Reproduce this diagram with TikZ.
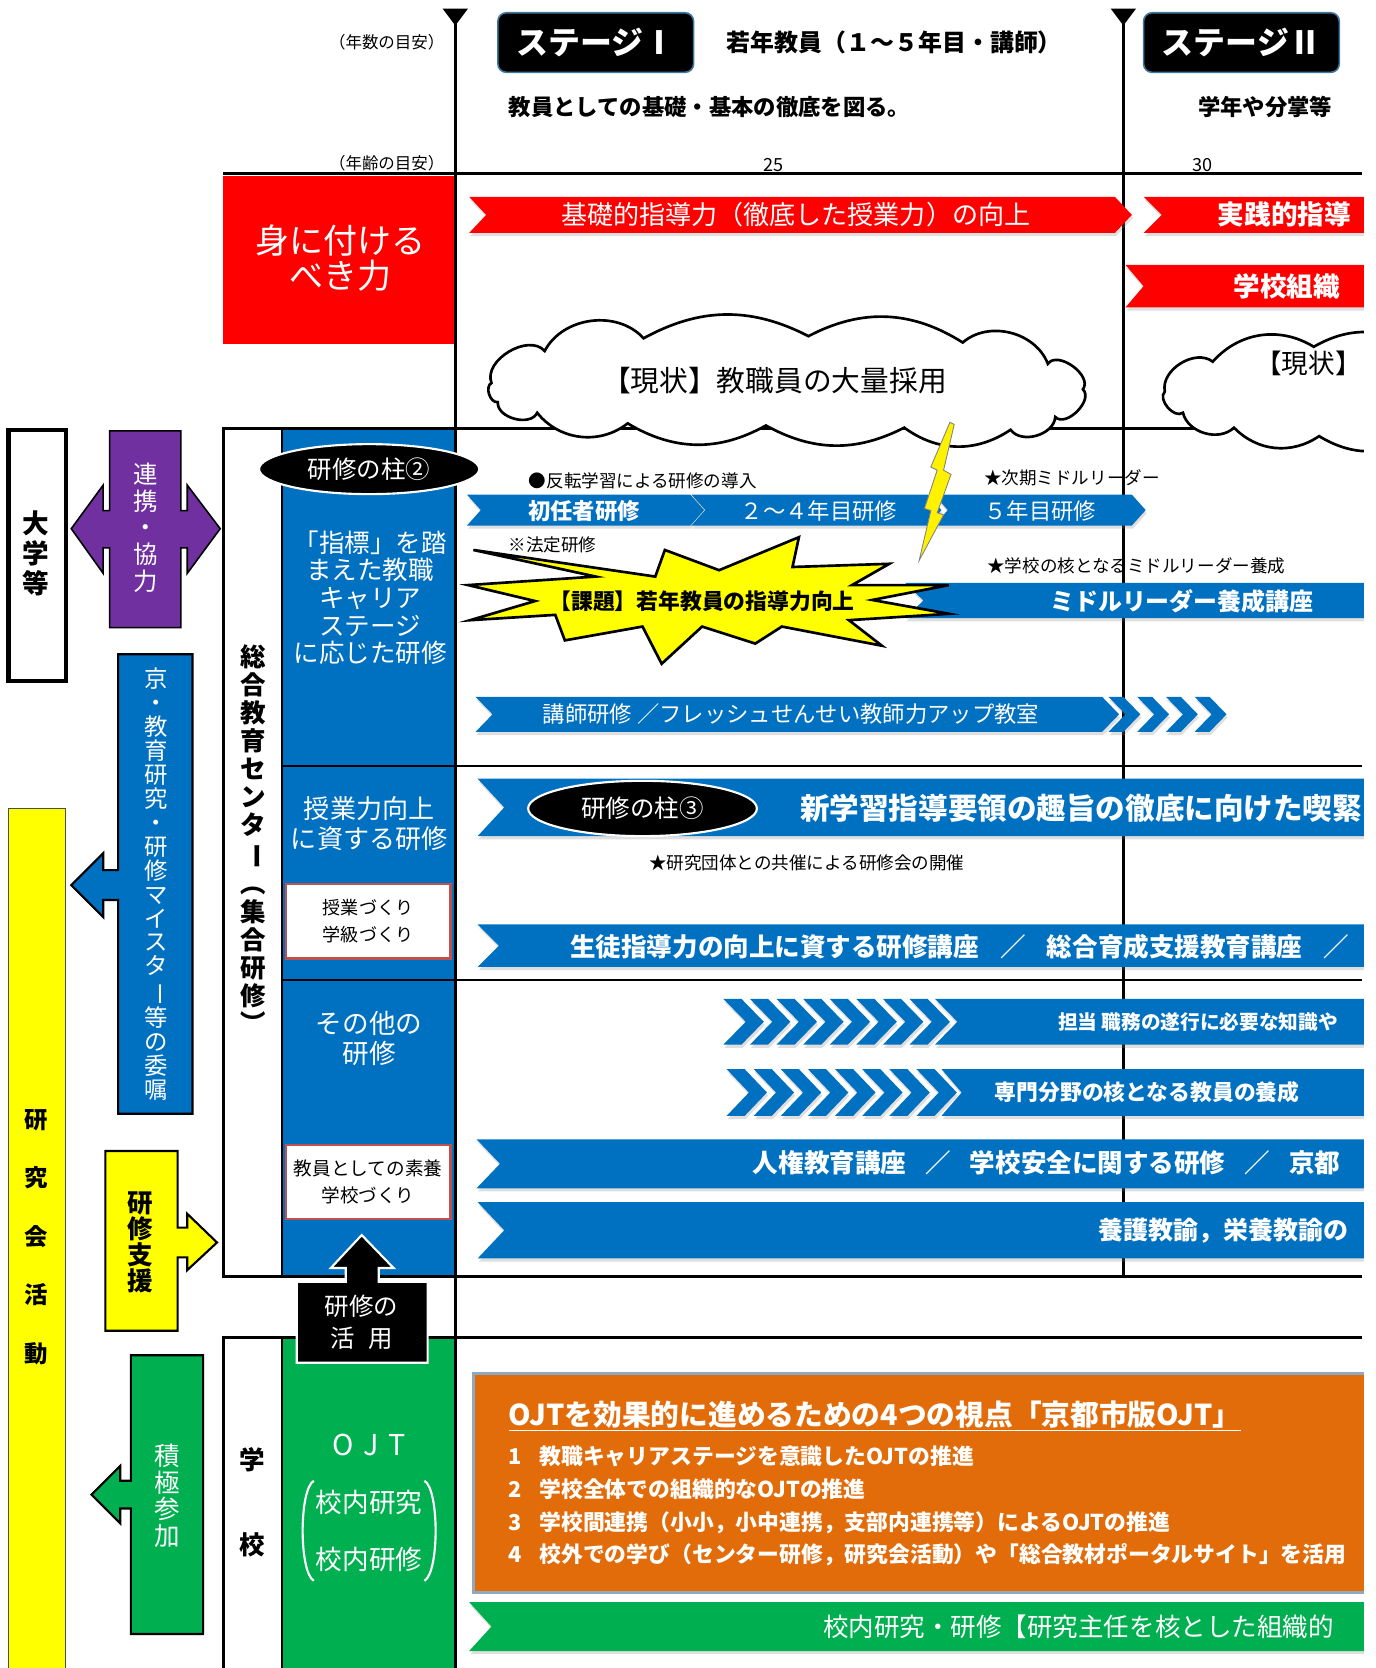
\documentclass[tikz,border=0pt]{standalone}
\usepackage{fontspec}
\setmainfont{Noto Sans CJK JP}
\usepackage{graphicx}
\usetikzlibrary{shapes.geometric,shadows}

\definecolor{kred}{RGB}{255,0,0}
\definecolor{kblue}{RGB}{0,112,192}
\definecolor{kpurple}{RGB}{112,48,160}
\definecolor{kgreen}{RGB}{0,176,80}
\definecolor{kyellow}{RGB}{255,255,0}
\definecolor{korange}{RGB}{227,108,10}
\definecolor{kframe}{RGB}{192,80,77}
\definecolor{kedge}{RGB}{142,169,193}

\newcommand{\tate}[1]{\rotatebox[origin=c]{-90}{#1}}
\newcommand{\fsz}[2]{\fontsize{#1}{#2}\selectfont}
% banner: colour, x1, y1, x2, y2, depth of notch and point
\newcommand{\banner}[6]{%
  \fill[#1,bshadow] (#2,#3) -- ({#4-#6},#3) -- (#4,{(#3+#5)/2}) -- ({#4-#6},#5)
    -- (#2,#5) -- ({#2+#6},{(#3+#5)/2}) -- cycle;}

\tikzset{
  bshadow/.style={drop shadow={opacity=.25,shadow xshift=1pt,shadow yshift=-3pt}},
  wtxt/.style={text=white,inner sep=0pt},
  btxt/.style={text=black,inner sep=0pt},
  note/.style={btxt,anchor=west,font=\fsz{16.5}{18}},
  stage/.style={fill=black,draw=kblue!50!gray,line width=1.5pt,rounded corners=8pt,text=white,
    font=\bfseries\fsz{30}{32},minimum width=184pt,minimum height=56pt},
  pillar/.style={ellipse,fill=black,draw=white,line width=2pt,text=white,font=\fsz{23}{25},inner sep=0pt},
  subbox/.style={fill=white,draw=kframe,line width=2pt,align=center,minimum width=155pt,
    minimum height=70pt,inner sep=0pt,text=black},
  kumo/.style={draw,fill=white,line width=2.5pt},
}

\begin{document}
\begin{tikzpicture}[x=1pt,y=-1pt]
\useasboundingbox (0,0) rectangle (1293,1568);
\begin{scope}
\clip (0,0) rectangle (1282,1568);

% coloured columns
\fill[kred] (210,165) rectangle (428,323);
\fill[kblue] (265,403) rectangle (428,1200);
\fill[kgreen] (265,1257) rectangle (428,1575);

% time axis and frames
\draw[line width=2.5] (428,18) -- (428,1575);
\draw[line width=2.5] (1056,18) -- (1056,1200);
\fill (416,8) -- (440,8) -- (428,24) -- cycle;
\fill (1044,8) -- (1068,8) -- (1056,24) -- cycle;
\draw[line width=2.5] (210,163) -- (1280,163);
\draw[line width=2.5] (1280,403) -- (210,403) -- (210,1200) -- (1280,1200);
\draw[line width=1.5] (265,403) -- (265,1200);
\draw[line width=2] (265,720) -- (1280,720);
\draw[line width=2] (265,921) -- (1280,921);
\draw[line width=2.5] (210,1575) -- (210,1257) -- (1280,1257);
\draw[line width=1.5] (265,1257) -- (265,1575);

% left side
\draw[line width=4,fill=white] (8,404) rectangle (62,640);
\filldraw[fill=kyellow,draw=black!70,line width=1] (8,760) rectangle (62,1580);
\filldraw[fill=kpurple,draw=black,line width=1.5] (103,405) -- (170,405) -- (170,480) -- (176,480)
  -- (176,456) -- (207,497) -- (176,539) -- (176,515) -- (170,515) -- (170,590) -- (103,590)
  -- (103,515) -- (97,515) -- (97,539) -- (67,497) -- (97,456) -- (97,480) -- (103,480) -- cycle;
\filldraw[fill=kblue,draw=black,line width=2] (111,615) -- (181,615) -- (181,1047) -- (111,1047)
  -- (111,846) -- (97,846) -- (97,862) -- (67,832) -- (97,802) -- (97,818) -- (111,818) -- cycle;
\filldraw[fill=kyellow,draw=black,line width=2] (99,1082) -- (167,1082) -- (167,1154) -- (176,1154)
  -- (176,1141) -- (204,1168) -- (176,1194) -- (176,1182) -- (167,1182) -- (167,1251) -- (99,1251) -- cycle;
\filldraw[fill=kgreen,draw=black,line width=2] (123,1274) -- (191,1274) -- (191,1536) -- (123,1536)
  -- (123,1418) -- (113,1418) -- (113,1432) -- (86,1405) -- (113,1378) -- (113,1392) -- (123,1392) -- cycle;
\filldraw[fill=black,draw=white,line width=2] (279,1205) -- (325,1205) -- (325,1192) -- (311,1192)
  -- (340,1161) -- (370,1192) -- (356,1192) -- (356,1205) -- (402,1205) -- (402,1281) -- (279,1281) -- cycle;

% clouds
\draw[kumo] (462,360) to[bend left=80] (512,330) to[bend left=55] (605,318) to[bend left=28] (760,316)
  to[bend left=30] (905,322) to[bend left=55] (985,342) to[bend left=90] (1018,366)
  to[bend left=90] (992,392) to[bend left=70] (950,404) to[bend left=35] (850,402)
  to[bend left=28] (720,400) to[bend left=30] (590,398) to[bend left=45] (505,388)
  to[bend left=80] (468,378) to[bend left=80] (462,360) -- cycle;
\draw[kumo] (1095,368) to[bend left=70] (1140,340) to[bend left=40] (1235,326) to[bend left=30] (1330,326)
  -- (1330,412) to[bend left=30] (1240,410) to[bend left=40] (1160,402) to[bend left=60] (1112,388)
  to[bend left=85] (1095,368) -- cycle;

% red banners
\banner{kred}{441}{185}{1064}{219}{16}
\banner{kred}{1075}{185}{1320}{219}{17}
\banner{kred}{1058}{249}{1320}{289}{17}

% blue banners
\banner{kblue}{439}{465}{662}{494}{13}
\banner{kblue}{650}{465}{885}{494}{13}
\banner{kblue}{878}{465}{1077}{494}{13}
\banner{kblue}{851}{548}{1320}{581}{17}
\banner{kblue}{447}{655}{1052}{688}{16}
\foreach \cx in {1042,1069,1096,1123}
  \fill[kblue,bshadow] (\cx,655) -- ++(14,0) -- ++(16,16.5) -- ++(-16,16.5) -- ++(-14,0) -- ++(16,-16.5) -- cycle;
\banner{kblue}{449}{732}{1320}{786}{25}
\banner{kblue}{449}{869}{1320}{909}{20}
\banner{kblue}{879}{939}{1320}{982}{21}
\foreach \cx in {680,705,730,755,780,805,830,855}
  \fill[kblue,bshadow] (\cx,939) -- ++(17,0) -- ++(21,21.5) -- ++(-21,21.5) -- ++(-17,0) -- ++(21,-21.5) -- cycle;
\banner{kblue}{885}{1005}{1320}{1049}{19}
\foreach \cx in {683,708.5,734,759.5,785,810.5,836,861.5}
  \fill[kblue,bshadow] (\cx,1005) -- ++(17,0) -- ++(21,22) -- ++(-21,22) -- ++(-17,0) -- ++(21,-22) -- cycle;
\banner{kblue}{448}{1071}{1320}{1117}{22}
\banner{kblue}{449}{1130}{1320}{1183}{25}

% school part
\filldraw[fill=korange,draw=kedge,line width=3] (445,1291) rectangle (1320,1497);
\banner{kgreen}{441}{1506}{1320}{1552}{21}

% issue star and bolt
\filldraw[fill=kyellow,draw=black,line width=2.5,line join=miter] (445,517) -- (616,542) -- (625,517)
  -- (676,536) -- (751,505) -- (745,533) -- (836,530) -- (801,550) -- (892,550) -- (820,564)
  -- (892,577) -- (798,583) -- (829,607) -- (735,589) -- (710,605) -- (660,589) -- (622,624)
  -- (604,589) -- (531,602) -- (522,578) -- (442,583) -- (503,565) -- (440,550) -- (560,542) -- cycle;
\filldraw[fill=kyellow!90!orange,draw=gray,line width=0.8] (893,397) -- (897,399) -- (887,442)
  -- (894,446) -- (881,482) -- (887,484) -- (864,527) -- (875,480) -- (869,478) -- (881,442)
  -- (875,439) -- cycle;

% pillars and sub boxes
\node[pillar,minimum width=207pt,minimum height=47pt] (hashira2) at (347,441) {研修の柱②};
\node[pillar,minimum width=215pt,minimum height=52pt] (hashira3) at (604,760) {研修の柱③};
\node[subbox,font=\fsz{17}{25}] (zukuri) at (346,866) {授業づくり\\学級づくり};
\node[subbox,font=\fsz{17.5}{25}] (soyou) at (346,1111) {教員としての素養\\学校づくり};

% header texts
\node[btxt,anchor=east,font=\fsz{15.5}{17}] (nensu) at (418,40) {（年数の目安）};
\node[btxt,anchor=east,font=\fsz{15.5}{17}] (nenrei) at (418,153) {（年齢の目安）};
\node[btxt,font=\fsz{17}{18}] (age25) at (727,155) {25};
\node[btxt,font=\fsz{17}{18}] (age30) at (1130,155) {30};
\node[stage] (stage1) at (560,40) {ステージⅠ};
\node[stage] (stage2) at (1167,40) {ステージⅡ};
\node[btxt,anchor=west,font=\bfseries\fsz{22.5}{24}] (jakunen) at (683,40) {若年教員（１～５年目・講師）};
\node[btxt,anchor=west,font=\bfseries\fsz{21}{23}] (kiso) at (478,101) {教員としての基礎・基本の徹底を図る。};
\node[btxt,anchor=west,font=\bfseries\fsz{21}{23}] (gakunen) at (1126,101) {学年や分掌等};
\node[wtxt,align=center,font=\fsz{32}{33}] (mini) at (320,243) {身に付ける\\べき力};
\node[wtxt,font=\fsz{24.5}{26}] (kisoteki) at (748,202) {基礎的指導力（徹底した授業力）の向上};
\node[wtxt,anchor=east,font=\bfseries\fsz{25}{27}] (jissen) at (1270,202) {実践的指導};
\node[wtxt,anchor=east,font=\bfseries\fsz{25}{27}] (soshiki) at (1260,269) {学校組織};
\node[btxt,font=\fsz{27}{29}] (genjo1) at (728,358) {【現状】教職員の大量採用};
\node[btxt,font=\fsz{25}{27}] (genjo2) at (1230,342) {【現状】};

% left texts
\node[btxt,align=center,font=\bfseries\fsz{25}{28}] (daigaku) at (34,520) {大\\学\\等};
\node[wtxt,align=center,font=\fsz{23}{25}] (renkei) at (137,496) {連\\携\\・\\協\\力};
\node[wtxt,align=center,font=\fsz{22}{22.5}] (meister) at (147,831)
  {京\\・\\教\\育\\研\\究\\・\\研\\修\\マ\\イ\\ス\\タ\\\tate{ー}\\等\\の\\委\\嘱};
\node[btxt,align=center,font=\bfseries\fsz{22}{55}] (kenkyukai) at (34,1163) {研\\究\\会\\活\\動};
\node[btxt,align=center,font=\bfseries\fsz{24}{24.5}] (shien) at (132,1168) {研\\修\\支\\援};
\node[wtxt,align=center,font=\fsz{24}{25}] (sankou) at (157,1406) {積\\極\\参\\加};
\node[btxt,align=center,font=\bfseries\fsz{24}{26.4}] (center) at (238,790)
  {総\\合\\教\\育\\セ\\ン\\タ\\\tate{ー}\\\tate{（}\\集\\合\\研\\修\\\tate{）}};

% column texts
\node[wtxt,align=center,font=\fsz{24}{26}] (shihyo) at (348,562) {「指標」を踏\\まえた教職\\キャリア\\ステージ\\に応じた研修};
\node[wtxt,align=center,font=\fsz{24.5}{28}] (jugyoryoku) at (347,774) {授業力向上\\に資する研修};
\node[wtxt,align=center,font=\fsz{25}{28}] (sonota) at (347,976) {その他の\\研修};
\node[wtxt,align=center,font=\fsz{23}{30}] (katsuyo) at (340,1243) {研修の\\活\hspace{12pt}用};
\node[btxt,align=center,font=\bfseries\fsz{24}{80}] (gakko) at (237,1412) {学\\校};
\node[wtxt,font=\fsz{27}{29}] (ojt) at (347,1358) {O\hspace{9pt}J\hspace{9pt}T};
\node[wtxt,align=center,font=\fsz{25}{53}] (konaiken) at (347,1439) {校内研究\\校内研修};
\draw[white,line width=2] (295,1392) .. controls (281,1400) and (281,1478) .. (295,1486);
\draw[white,line width=2] (399,1392) .. controls (413,1400) and (413,1478) .. (399,1486);

% banner texts
\node[note] (hanten) at (497,452) {●反転学習による研修の導入};
\node[note] (jiki) at (925,449) {★次期ミドルリーダー};
\node[note] (hotei) at (478,512) {※法定研修};
\node[note] (kaku) at (928,532) {★学校の核となるミドルリーダー養成};
\node[note] (kyosai) at (610,811) {★研究団体との共催による研修会の開催};
\node[wtxt,font=\bfseries\fsz{21}{23}] (shonin) at (549,480) {初任者研修};
\node[wtxt,font=\fsz{21}{23}] (nenme24) at (770,480) {２～４年目研修};
\node[wtxt,font=\fsz{21}{23}] (nenme5) at (978,480) {５年目研修};
\node[wtxt,font=\bfseries\fsz{22.5}{24}] (middle) at (1111,565) {ミドルリーダー養成講座};
\node[btxt,font=\bfseries\fsz{20.5}{22}] (kadai) at (660,565) {【課題】若年教員の指導力向上};
\node[wtxt,anchor=west,font=\fsz{21}{23}] (koshi) at (510,671) {講師研修 ／フレッシュせんせい教師力アップ教室};
\node[wtxt,anchor=west,font=\bfseries\fsz{27.8}{30}] (shingaku) at (752,760) {新学習指導要領の趣旨の徹底に向けた喫緊};
\node[wtxt,anchor=west,font=\bfseries\fsz{24}{26}] (seito) at (536,890)
  {生徒指導力の向上に資する研修講座\hspace{20pt}／\hspace{20pt}総合育成支援教育講座\hspace{20pt}／};
\node[wtxt,anchor=east,font=\bfseries\fsz{18.5}{20}] (tanto) at (1258,961) {担当 職務の遂行に必要な知識や};
\node[wtxt,anchor=west,font=\bfseries\fsz{20.5}{22}] (senmon) at (935,1027) {専門分野の核となる教員の養成};
\node[wtxt,anchor=east,font=\bfseries\fsz{24}{26}] (jinken) at (1260,1093)
  {人権教育講座\hspace{18pt}／\hspace{18pt}学校安全に関する研修\hspace{18pt}／\hspace{18pt}京都};
\node[wtxt,anchor=east,font=\bfseries\fsz{23.5}{25}] (yogo) at (1268,1157) {養護教諭，栄養教諭の};

% OJT box
\node[wtxt,anchor=west,font=\bfseries\fsz{27}{29}] (ojttitle) at (478,1331)
  {\underline{OJTを効果的に進めるための4つの視点「京都市版OJT」}};
\node[wtxt,anchor=west,font=\bfseries\fsz{20.5}{23}] (ojt1) at (478,1369) {\makebox[29pt][l]{1}教職キャリアステージを意識したOJTの推進};
\node[wtxt,anchor=west,font=\bfseries\fsz{20.5}{23}] (ojt2) at (478,1400) {\makebox[29pt][l]{2}学校全体での組織的なOJTの推進};
\node[wtxt,anchor=west,font=\bfseries\fsz{20.5}{23}] (ojt3) at (478,1431) {\makebox[29pt][l]{3}学校間連携（小小，小中連携，支部内連携等）によるOJTの推進};
\node[wtxt,anchor=west,font=\bfseries\fsz{20.5}{23}] (ojt4) at (478,1461) {\makebox[29pt][l]{4}校外での学び（センター研修，研究会活動）や「総合教材ポータルサイト」を活用};
\node[wtxt,anchor=east,font=\fsz{24}{26}] (konai) at (1254,1529) {校内研究・研修【研究主任を核とした組織的};
\end{scope}
\end{tikzpicture}
\end{document}
